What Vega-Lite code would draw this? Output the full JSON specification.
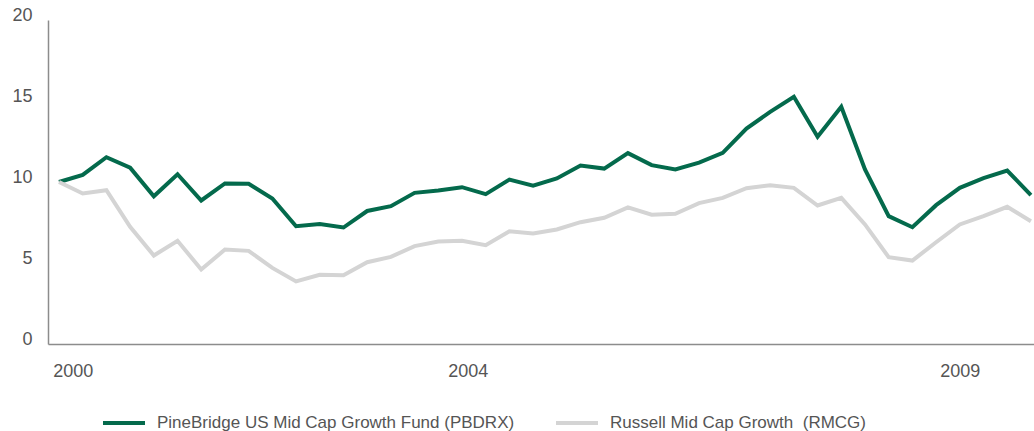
{
  "$schema": "https://vega.github.io/schema/vega-lite/v6.json",
  "width": 986,
  "height": 324,
  "autosize": {"type": "none"},
  "padding": {"left": 48, "top": 20, "right": 0, "bottom": 87},
  "background": "white",
  "config": {
    "view": {"stroke": null},
    "font": "Liberation Sans"
  },
  "data": {
    "values": [
      {"i": 0, "series": "PineBridge US Mid Cap Growth Fund (PBDRX)", "value": 10.0},
      {"i": 1, "series": "PineBridge US Mid Cap Growth Fund (PBDRX)", "value": 10.44},
      {"i": 2, "series": "PineBridge US Mid Cap Growth Fund (PBDRX)", "value": 11.53},
      {"i": 3, "series": "PineBridge US Mid Cap Growth Fund (PBDRX)", "value": 10.88},
      {"i": 4, "series": "PineBridge US Mid Cap Growth Fund (PBDRX)", "value": 9.12},
      {"i": 5, "series": "PineBridge US Mid Cap Growth Fund (PBDRX)", "value": 10.48},
      {"i": 6, "series": "PineBridge US Mid Cap Growth Fund (PBDRX)", "value": 8.86},
      {"i": 7, "series": "PineBridge US Mid Cap Growth Fund (PBDRX)", "value": 9.91},
      {"i": 8, "series": "PineBridge US Mid Cap Growth Fund (PBDRX)", "value": 9.89},
      {"i": 9, "series": "PineBridge US Mid Cap Growth Fund (PBDRX)", "value": 8.98},
      {"i": 10, "series": "PineBridge US Mid Cap Growth Fund (PBDRX)", "value": 7.27},
      {"i": 11, "series": "PineBridge US Mid Cap Growth Fund (PBDRX)", "value": 7.4},
      {"i": 12, "series": "PineBridge US Mid Cap Growth Fund (PBDRX)", "value": 7.19},
      {"i": 13, "series": "PineBridge US Mid Cap Growth Fund (PBDRX)", "value": 8.21},
      {"i": 14, "series": "PineBridge US Mid Cap Growth Fund (PBDRX)", "value": 8.51},
      {"i": 15, "series": "PineBridge US Mid Cap Growth Fund (PBDRX)", "value": 9.33},
      {"i": 16, "series": "PineBridge US Mid Cap Growth Fund (PBDRX)", "value": 9.48},
      {"i": 17, "series": "PineBridge US Mid Cap Growth Fund (PBDRX)", "value": 9.68},
      {"i": 18, "series": "PineBridge US Mid Cap Growth Fund (PBDRX)", "value": 9.25},
      {"i": 19, "series": "PineBridge US Mid Cap Growth Fund (PBDRX)", "value": 10.15},
      {"i": 20, "series": "PineBridge US Mid Cap Growth Fund (PBDRX)", "value": 9.78},
      {"i": 21, "series": "PineBridge US Mid Cap Growth Fund (PBDRX)", "value": 10.22},
      {"i": 22, "series": "PineBridge US Mid Cap Growth Fund (PBDRX)", "value": 11.02},
      {"i": 23, "series": "PineBridge US Mid Cap Growth Fund (PBDRX)", "value": 10.83},
      {"i": 24, "series": "PineBridge US Mid Cap Growth Fund (PBDRX)", "value": 11.78},
      {"i": 25, "series": "PineBridge US Mid Cap Growth Fund (PBDRX)", "value": 11.04},
      {"i": 26, "series": "PineBridge US Mid Cap Growth Fund (PBDRX)", "value": 10.77},
      {"i": 27, "series": "PineBridge US Mid Cap Growth Fund (PBDRX)", "value": 11.2},
      {"i": 28, "series": "PineBridge US Mid Cap Growth Fund (PBDRX)", "value": 11.8},
      {"i": 29, "series": "PineBridge US Mid Cap Growth Fund (PBDRX)", "value": 13.3},
      {"i": 30, "series": "PineBridge US Mid Cap Growth Fund (PBDRX)", "value": 14.33},
      {"i": 31, "series": "PineBridge US Mid Cap Growth Fund (PBDRX)", "value": 15.26},
      {"i": 32, "series": "PineBridge US Mid Cap Growth Fund (PBDRX)", "value": 12.79},
      {"i": 33, "series": "PineBridge US Mid Cap Growth Fund (PBDRX)", "value": 14.64},
      {"i": 34, "series": "PineBridge US Mid Cap Growth Fund (PBDRX)", "value": 10.77},
      {"i": 35, "series": "PineBridge US Mid Cap Growth Fund (PBDRX)", "value": 7.89},
      {"i": 36, "series": "PineBridge US Mid Cap Growth Fund (PBDRX)", "value": 7.21},
      {"i": 37, "series": "PineBridge US Mid Cap Growth Fund (PBDRX)", "value": 8.57},
      {"i": 38, "series": "PineBridge US Mid Cap Growth Fund (PBDRX)", "value": 9.64},
      {"i": 39, "series": "PineBridge US Mid Cap Growth Fund (PBDRX)", "value": 10.24},
      {"i": 40, "series": "PineBridge US Mid Cap Growth Fund (PBDRX)", "value": 10.71},
      {"i": 41, "series": "PineBridge US Mid Cap Growth Fund (PBDRX)", "value": 9.19},
      {"i": 0, "series": "Russell Mid Cap Growth \u00a0(RMCG)", "value": 10.0},
      {"i": 1, "series": "Russell Mid Cap Growth \u00a0(RMCG)", "value": 9.29},
      {"i": 2, "series": "Russell Mid Cap Growth \u00a0(RMCG)", "value": 9.49},
      {"i": 3, "series": "Russell Mid Cap Growth \u00a0(RMCG)", "value": 7.23},
      {"i": 4, "series": "Russell Mid Cap Growth \u00a0(RMCG)", "value": 5.46},
      {"i": 5, "series": "Russell Mid Cap Growth \u00a0(RMCG)", "value": 6.37},
      {"i": 6, "series": "Russell Mid Cap Growth \u00a0(RMCG)", "value": 4.6},
      {"i": 7, "series": "Russell Mid Cap Growth \u00a0(RMCG)", "value": 5.83},
      {"i": 8, "series": "Russell Mid Cap Growth \u00a0(RMCG)", "value": 5.75},
      {"i": 9, "series": "Russell Mid Cap Growth \u00a0(RMCG)", "value": 4.7},
      {"i": 10, "series": "Russell Mid Cap Growth \u00a0(RMCG)", "value": 3.86},
      {"i": 11, "series": "Russell Mid Cap Growth \u00a0(RMCG)", "value": 4.27},
      {"i": 12, "series": "Russell Mid Cap Growth \u00a0(RMCG)", "value": 4.25},
      {"i": 13, "series": "Russell Mid Cap Growth \u00a0(RMCG)", "value": 5.05},
      {"i": 14, "series": "Russell Mid Cap Growth \u00a0(RMCG)", "value": 5.38},
      {"i": 15, "series": "Russell Mid Cap Growth \u00a0(RMCG)", "value": 6.04},
      {"i": 16, "series": "Russell Mid Cap Growth \u00a0(RMCG)", "value": 6.33},
      {"i": 17, "series": "Russell Mid Cap Growth \u00a0(RMCG)", "value": 6.37},
      {"i": 18, "series": "Russell Mid Cap Growth \u00a0(RMCG)", "value": 6.1},
      {"i": 19, "series": "Russell Mid Cap Growth \u00a0(RMCG)", "value": 6.96},
      {"i": 20, "series": "Russell Mid Cap Growth \u00a0(RMCG)", "value": 6.82},
      {"i": 21, "series": "Russell Mid Cap Growth \u00a0(RMCG)", "value": 7.07},
      {"i": 22, "series": "Russell Mid Cap Growth \u00a0(RMCG)", "value": 7.52},
      {"i": 23, "series": "Russell Mid Cap Growth \u00a0(RMCG)", "value": 7.79},
      {"i": 24, "series": "Russell Mid Cap Growth \u00a0(RMCG)", "value": 8.43},
      {"i": 25, "series": "Russell Mid Cap Growth \u00a0(RMCG)", "value": 7.98},
      {"i": 26, "series": "Russell Mid Cap Growth \u00a0(RMCG)", "value": 8.04},
      {"i": 27, "series": "Russell Mid Cap Growth \u00a0(RMCG)", "value": 8.7},
      {"i": 28, "series": "Russell Mid Cap Growth \u00a0(RMCG)", "value": 9.02},
      {"i": 29, "series": "Russell Mid Cap Growth \u00a0(RMCG)", "value": 9.62},
      {"i": 30, "series": "Russell Mid Cap Growth \u00a0(RMCG)", "value": 9.8},
      {"i": 31, "series": "Russell Mid Cap Growth \u00a0(RMCG)", "value": 9.64},
      {"i": 32, "series": "Russell Mid Cap Growth \u00a0(RMCG)", "value": 8.55},
      {"i": 33, "series": "Russell Mid Cap Growth \u00a0(RMCG)", "value": 9.02},
      {"i": 34, "series": "Russell Mid Cap Growth \u00a0(RMCG)", "value": 7.38},
      {"i": 35, "series": "Russell Mid Cap Growth \u00a0(RMCG)", "value": 5.36},
      {"i": 36, "series": "Russell Mid Cap Growth \u00a0(RMCG)", "value": 5.15},
      {"i": 37, "series": "Russell Mid Cap Growth \u00a0(RMCG)", "value": 6.28},
      {"i": 38, "series": "Russell Mid Cap Growth \u00a0(RMCG)", "value": 7.38},
      {"i": 39, "series": "Russell Mid Cap Growth \u00a0(RMCG)", "value": 7.89},
      {"i": 40, "series": "Russell Mid Cap Growth \u00a0(RMCG)", "value": 8.47},
      {"i": 41, "series": "Russell Mid Cap Growth \u00a0(RMCG)", "value": 7.58}
    ]
  },
  "mark": {"type": "line", "strokeWidth": 4, "strokeJoin": "miter", "clip": false},
  "encoding": {
    "x": {
      "field": "i",
      "type": "quantitative",
      "scale": {"domain": [-0.464, 41.13], "nice": false, "zero": false},
      "axis": {
        "title": null,
        "values": [0.58, 17.24, 38.0],
        "labelExpr": "datum.value < 5 ? '2000' : (datum.value < 20 ? '2004' : '2009')",
        "grid": false,
        "ticks": false,
        "domainColor": "#8c8c8c",
        "domainWidth": 1.5,
        "labelColor": "#555555",
        "labelFontSize": 18,
        "labelPadding": 18,
        "labelBaseline": "top",
        "labelFlush": false
      }
    },
    "y": {
      "field": "value",
      "type": "quantitative",
      "scale": {"domain": [0, 20], "nice": false},
      "axis": {
        "title": null,
        "values": [0, 5, 10, 15, 20],
        "grid": false,
        "ticks": false,
        "domainColor": "#8c8c8c",
        "domainWidth": 1.5,
        "labelColor": "#555555",
        "labelFontSize": 18,
        "labelPadding": 16,
        "labelBaseline": "alphabetic",
        "labelFlush": false
      }
    },
    "color": {
      "field": "series",
      "type": "nominal",
      "scale": {
        "domain": ["PineBridge US Mid Cap Growth Fund (PBDRX)", "Russell Mid Cap Growth \u00a0(RMCG)"],
        "range": ["#046a4c", "#d4d4d4"]
      },
      "legend": {
        "title": null,
        "orient": "none",
        "direction": "horizontal",
        "legendX": 53,
        "legendY": 380,
        "padding": 0,
        "symbolType": "stroke",
        "symbolSize": 1764,
        "symbolStrokeWidth": 4,
        "labelFontSize": 17,
        "labelColor": "#555555",
        "labelOffset": 10,
        "labelLimit": 0,
        "columnPadding": 33
      }
    },
    "order": {"field": "i", "type": "quantitative"}
  }
}
